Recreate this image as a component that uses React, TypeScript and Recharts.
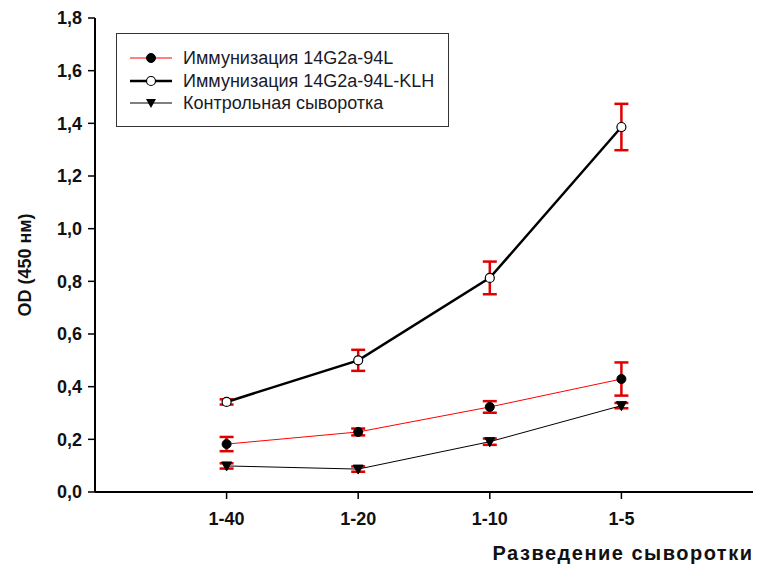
import React from 'react';
import { LineChart, Line, XAxis, YAxis, ErrorBar, Legend } from 'recharts';

const dilutions = ['1-40', '1-20', '1-10', '1-5'];
const immun94L = [0.182, 0.228, 0.323, 0.429];
const immun94LErr = [0.027, 0.013, 0.022, 0.063];
const immunKLH = [0.342, 0.5, 0.813, 1.386];
const immunKLHErr = [0.01, 0.04, 0.062, 0.088];
const control = [0.099, 0.087, 0.191, 0.328];
const controlErr = [0.01, 0.01, 0.012, 0.01];
const yTicks = [0, 0.2, 0.4, 0.6, 0.8, 1.0, 1.2, 1.4, 1.6, 1.8];
const seriesNames = ['Иммунизация 14G2a-94L', 'Иммунизация 14G2a-94L-KLH', 'Контрольная сыворотка'];

const data = dilutions.map((d, i) => ({
  x: i + 1,
  label: d,
  a: immun94L[i],
  aErr: immun94LErr[i],
  b: immunKLH[i],
  bErr: immunKLHErr[i],
  c: control[i],
  cErr: controlErr[i],
}));

const FONT = '"Liberation Sans", Arial, sans-serif';

const TriangleDot = (props: any) => {
  const { cx, cy, key } = props;
  if (cx == null || cy == null) return null;
  return (
    <path
      key={key}
      d={`M${cx - 5},${cy - 4} L${cx + 5},${cy - 4} L${cx},${cy + 5} Z`}
      fill="#000"
      stroke="#000"
      strokeWidth={1}
    />
  );
};

const LegendBox = () => {
  const rows = [
    { name: seriesNames[0], color: '#ff0000', w: 1, marker: 'dot' },
    { name: seriesNames[1], color: '#000', w: 2.5, marker: 'open' },
    { name: seriesNames[2], color: '#000', w: 1, marker: 'tri' },
  ];
  return (
    <div
      style={{
        width: 333,
        height: 94,
        border: '1px solid #333',
        boxSizing: 'border-box',
        background: '#fff',
        position: 'relative',
        fontFamily: FONT,
      }}
    >
      {rows.map((r, i) => (
        <div key={i} style={{ position: 'absolute', left: 0, top: 13 + i * 22.5, height: 22, width: 333 }}>
          <svg width={60} height={22} style={{ position: 'absolute', left: 13, top: 0 }}>
            <line x1={0} y1={11} x2={42} y2={11} stroke={r.color} strokeWidth={r.w} />
            {r.marker === 'dot' && <circle cx={21} cy={11} r={4.5} fill="#000" stroke="#000" />}
            {r.marker === 'open' && <circle cx={21} cy={11} r={4.5} fill="#fff" stroke="#000" strokeWidth={1.2} />}
            {r.marker === 'tri' && <path d="M16,7 L26,7 L21,16 Z" fill="#000" />}
          </svg>
          <span
            style={{
              position: 'absolute',
              left: 66,
              top: 0,
              fontSize: 18,
              lineHeight: '22px',
              color: '#1a1a2a',
              whiteSpace: 'nowrap',
            }}
          >
            {r.name}
          </span>
        </div>
      ))}
    </div>
  );
};

export default function App() {
  return (
    <div style={{ position: 'absolute', left: 0, top: 0, width: 758, height: 568, background: '#fff' }}>
      <LineChart
        width={758}
        height={568}
        data={data}
        margin={{ top: 18, right: 5, bottom: 30, left: 0 }}
      >
        <XAxis
          type="number"
          dataKey="x"
          domain={[0, 5]}
          ticks={[1, 2, 3, 4]}
          tickFormatter={(v: number) => dilutions[v - 1] ?? ''}
          height={46}
          stroke="#000"
          axisLine={{ stroke: '#000', strokeWidth: 2 }}
          tickLine={{ stroke: '#000', strokeWidth: 1.5 }}
          tickSize={7}
          tickMargin={13}
          tick={{ fill: '#111', fontSize: 18, fontWeight: 'bold', fontFamily: FONT }}
          label={{
            content: () => (
              <text
                x={623}
                y={553}
                textAnchor="middle"
                dominantBaseline="central"
                fontFamily={FONT}
                fontWeight="bold"
                fontSize={20}
                fill="#111"
                letterSpacing={1.5}
              >
                Разведение сыворотки
              </text>
            ),
          }}
        />
        <YAxis
          type="number"
          domain={[0, 1.8]}
          ticks={yTicks}
          interval={0}
          width={95}
          tickFormatter={(v: number) => v.toFixed(1).replace('.', ',')}
          axisLine={{ stroke: '#000', strokeWidth: 2 }}
          tickLine={{ stroke: '#000', strokeWidth: 1.5 }}
          tickSize={7}
          tickMargin={6}
          tick={{ fill: '#111', fontSize: 18, fontWeight: 'bold', fontFamily: FONT }}
          label={{
            content: () => (
              <text
                x={25}
                y={265}
                transform="rotate(-90 25 265)"
                textAnchor="middle"
                dominantBaseline="central"
                fontFamily={FONT}
                fontWeight="bold"
                fontSize={18}
                fill="#111"
              >
                OD (450 нм)
              </text>
            ),
          }}
        />
        <Legend
          layout="horizontal"
          verticalAlign="middle"
          align="center"
          wrapperStyle={{ left: 116, top: 33, width: 333, height: 94 }}
          content={() => <LegendBox />}
        />
        <Line
          dataKey="c"
          name={seriesNames[2]}
          stroke="#000"
          strokeWidth={1}
          isAnimationActive={false}
          dot={TriangleDot}
          activeDot={false}
        >
          <ErrorBar dataKey="cErr" direction="y" stroke="#e00000" strokeWidth={2.5} width={7} />
        </Line>
        <Line
          dataKey="a"
          name={seriesNames[0]}
          stroke="#ff0000"
          strokeWidth={1}
          isAnimationActive={false}
          dot={{ r: 4.5, fill: '#000', stroke: '#000', strokeWidth: 1 }}
          activeDot={false}
        >
          <ErrorBar dataKey="aErr" direction="y" stroke="#e00000" strokeWidth={2.5} width={7} />
        </Line>
        <Line
          dataKey="b"
          name={seriesNames[1]}
          stroke="#000"
          strokeWidth={2.5}
          isAnimationActive={false}
          dot={{ r: 4.5, fill: '#fff', stroke: '#000', strokeWidth: 1.2 }}
          activeDot={false}
        >
          <ErrorBar dataKey="bErr" direction="y" stroke="#e00000" strokeWidth={2.5} width={7} />
        </Line>
      </LineChart>
    </div>
  );
}
